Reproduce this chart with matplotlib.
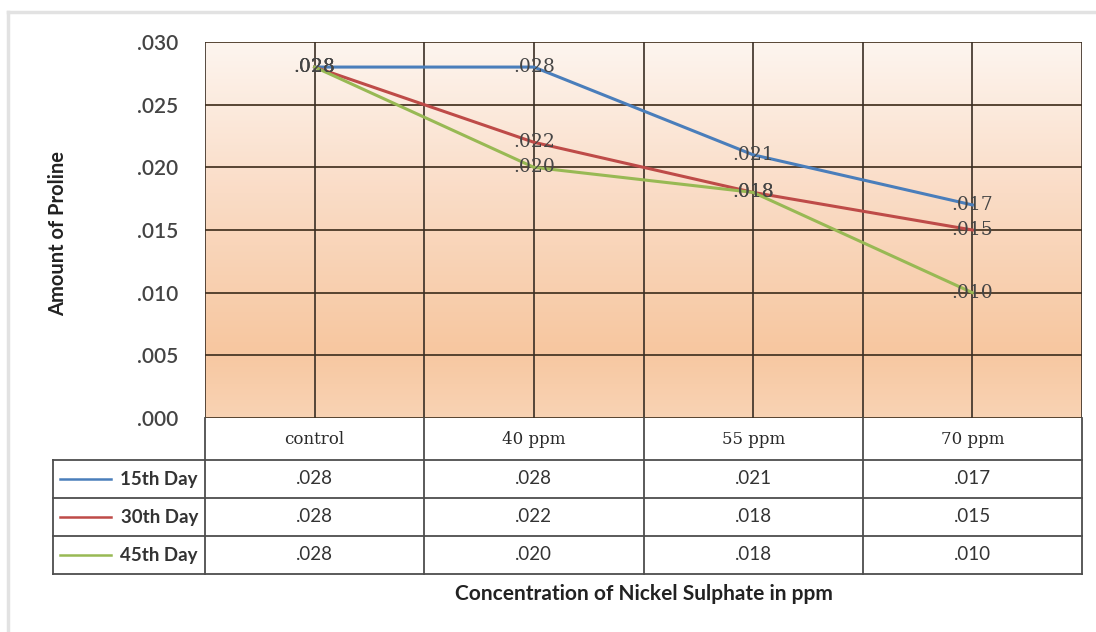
import numpy as np
import matplotlib
matplotlib.use("Agg")
import matplotlib.pyplot as plt
from matplotlib.colors import LinearSegmentedColormap
from matplotlib.lines import Line2D

# Proline content under nickel sulphate treatment
categories = ["control", "40 ppm", "55 ppm", "70 ppm"]
series_names = ["15th Day", "30th Day", "45th Day"]
day15 = [0.028, 0.028, 0.021, 0.017]
day30 = [0.028, 0.022, 0.018, 0.015]
day45 = [0.028, 0.020, 0.018, 0.010]
series_values = [day15, day30, day45]
series_colors = ["#4a7ebb", "#be4b48", "#98b954"]

def fmt(v):
    return ("%.3f" % v).lstrip("0")

W, H = 1096, 632
fig = plt.figure(figsize=(W / 100, H / 100), dpi=100)
fig.patch.set_facecolor("white")

# outer chart frame (top and left edges)
fig.add_artist(Line2D([8 / W, 1.0], [1 - 12 / H, 1 - 12 / H], color="#e2e2e2", lw=2.5))
fig.add_artist(Line2D([8 / W, 8 / W], [0, 1 - 12 / H], color="#e2e2e2", lw=2.5))

# plot area in pixels
px_left, px_right, px_top, px_bottom = 205, 1082, 42, 418
ax = fig.add_axes([px_left / W, 1 - px_bottom / H,
                   (px_right - px_left) / W, (px_bottom - px_top) / H])
x = np.arange(len(categories))
ax.set_xlim(-0.5, len(categories) - 0.5)
ax.set_ylim(0, 0.030)

# peach gradient background
cmap = LinearSegmentedColormap.from_list(
    "peach", [(0.0, "#f9d3b4"), (0.18, "#f7c7a0"), (0.6, "#fadcc6"), (1.0, "#fdf5ef")])
grad = np.linspace(0, 1, 256).reshape(-1, 1)
ax.imshow(grad, cmap=cmap, origin="lower", aspect="auto",
          extent=[-0.5, len(categories) - 0.5, 0, 0.030], zorder=0)

# grid
yticks = np.arange(0, 0.0301, 0.005)
for yv in yticks:
    ax.axhline(yv, color="#4a3826", lw=1.3, zorder=1)
for xv in np.arange(-0.5, len(categories), 0.5):
    ax.axvline(xv, color="#3a2e24", lw=1.2, zorder=1)

for vals, col in zip(series_values, series_colors):
    ax.plot(x, vals, color=col, lw=2.2, zorder=3)
    for xi, v in zip(x, vals):
        ax.text(xi, v, fmt(v), ha="center", va="center", fontsize=13.5,
                family="DejaVu Serif", color="#454545", zorder=4)

ax.set_yticks(yticks)
ax.set_yticklabels([fmt(v) for v in yticks], fontsize=15, family="Lato",
                   fontweight="semibold", color="#444444")
ax.tick_params(axis="y", length=0, pad=19)
ax.set_xticks([])
for s in ax.spines.values():
    s.set_visible(False)

# data table under the plot
row_h = [42, 38, 38, 38]
tab_top = px_bottom
tab_bottom = tab_top + sum(row_h)
tab = fig.add_axes([px_left / W, 1 - tab_bottom / H,
                    (px_right - px_left) / W, (tab_bottom - tab_top) / H])
tab.set_xlim(-0.5, len(categories) - 0.5)
tab.set_ylim(sum(row_h), 0)
tab.axis("off")
unit = (px_right - px_left) / len(categories)
label_left = -0.5 - (px_left - 53) / unit
edges = np.cumsum([0] + row_h)
bc = "#4d4d4d"
kw = dict(color=bc, lw=1.3, clip_on=False)

# header row
for xv in np.arange(-0.5, len(categories), 1.0):
    tab.plot([xv, xv], [0, edges[-1]], **kw)
for i, c in enumerate(categories):
    tab.text(x[i], (edges[0] + edges[1]) / 2 + 1, c, ha="center", va="center",
             fontsize=12, family="DejaVu Serif", color="#2a2a2a")
# body rows
for e in edges[1:]:
    tab.plot([label_left, len(categories) - 0.5], [e, e], **kw)
tab.plot([label_left, label_left], [edges[1], edges[-1]], **kw)
for r, (name, vals, col) in enumerate(zip(series_names, series_values, series_colors)):
    yc = (edges[r + 1] + edges[r + 2]) / 2
    tab.plot([label_left + 7 / unit, label_left + 58 / unit], [yc, yc],
             color=col, lw=1.8, clip_on=False)
    tab.text(-0.5 - 7 / unit, yc, name, ha="right", va="center", fontsize=13.5,
             fontweight="bold", family="Lato", color="#333333")
    for i, v in enumerate(vals):
        tab.text(x[i], yc, fmt(v), ha="center", va="center", fontsize=13.5,
                 family="Lato", color="#333333")

fig.text((px_left + px_right) / 2 / W, 1 - 594 / H, "Concentration of Nickel Sulphate in ppm",
         ha="center", va="center", fontsize=15, fontweight="bold", family="Lato", color="#222222")
fig.text(58 / W, 1 - 233 / H, "Amount of Proline", rotation=90, ha="center", va="center",
         fontsize=14.5, fontweight="bold", family="Lato", color="#222222")

fig.savefig("out.png", dpi=100)
